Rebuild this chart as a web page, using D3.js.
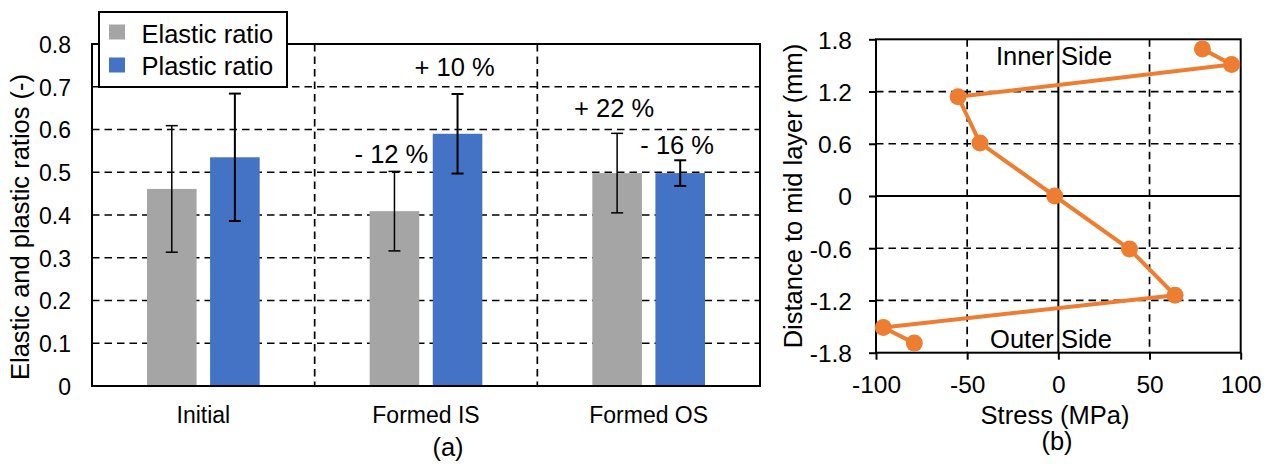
<!DOCTYPE html>
<html>
<head>
<meta charset="utf-8">
<script src="https://cdn.jsdelivr.net/npm/d3@7"></script>
<style>
  html, body { margin: 0; padding: 0; background: #fff; }
  svg { display: block; }
  text { font-family: "Liberation Sans", Arial, sans-serif; fill: #000; }
</style>
</head>
<body>
<svg id="chart" width="1272" height="464"></svg>
<script>
// ---- (a) elastic / plastic ratios ----
const categories = ["Initial", "Formed IS", "Formed OS"];
const seriesNames = ["Elastic ratio", "Plastic ratio"];
const elasticRatio = [0.461, 0.409, 0.498];
const elasticError = [0.148, 0.093, 0.093];
const plasticRatio = [0.535, 0.590, 0.498];
const plasticError = [0.149, 0.093, 0.030];
const ratioTicks = [0, 0.1, 0.2, 0.3, 0.4, 0.5, 0.6, 0.7, 0.8];
const ratioTickLabels = ["0", "0.1", "0.2", "0.3", "0.4", "0.5", "0.6", "0.7", "0.8"];
// relative change labels: [category, series, text]
const changeLabels = [
  ["Formed IS", "Elastic ratio", "- 12 %"],
  ["Formed IS", "Plastic ratio", "+ 10 %"],
  ["Formed OS", "Elastic ratio", "+ 22 %"],
  ["Formed OS", "Plastic ratio", "- 16 %"]
];

// ---- (b) stress profile through thickness ----
const stressMPa = [79, 95, -55, -43, -2, 39, 64, -96, -79];
const distanceMm = [1.69, 1.51, 1.14, 0.61, 0, -0.61, -1.14, -1.51, -1.69];
const stressTicks = [-100, -50, 0, 50, 100];
const stressTickLabels = ["-100", "-50", "0", "50", "100"];
const distanceTicks = [1.8, 1.2, 0.6, 0, -0.6, -1.2, -1.8];
const distanceTickLabels = ["1.8", "1.2", "0.6", "0", "-0.6", "-1.2", "-1.8"];

const svg = d3.select("#chart");
const DASH = "7.5,5";
const colors = { "Elastic ratio": "#A5A5A5", "Plastic ratio": "#4472C4" };

// ================= Panel (a) =================
const A = { left: 92, right: 760, top: 44, bottom: 386 };
const gA = svg.append("g");

const x0 = d3.scaleBand().domain(categories).range([A.left, A.right]).padding(0);
const bw = x0.bandwidth();
const x1 = d3.scaleBand().domain(seriesNames)
  .range([bw * 0.247, bw * 0.753]).paddingInner(0.214).paddingOuter(0);
const yA = d3.scaleLinear().domain([0, 0.8]).range([A.bottom, A.top]);

// grid
gA.append("g").selectAll("line").data(ratioTicks.filter(t => t > 0 && t < 0.8)).join("line")
  .attr("x1", A.left).attr("x2", A.right)
  .attr("y1", d => yA(d)).attr("y2", d => yA(d))
  .attr("stroke", "#000").attr("stroke-width", 1.7).attr("stroke-dasharray", DASH);
gA.append("g").selectAll("line").data(categories.slice(1)).join("line")
  .attr("x1", d => x0(d)).attr("x2", d => x0(d))
  .attr("y1", A.top).attr("y2", A.bottom)
  .attr("stroke", "#000").attr("stroke-width", 1.7).attr("stroke-dasharray", DASH);

const barData = [];
categories.forEach((c, i) => {
  barData.push({ cat: c, s: "Elastic ratio", v: elasticRatio[i], e: elasticError[i] });
  barData.push({ cat: c, s: "Plastic ratio", v: plasticRatio[i], e: plasticError[i] });
});

gA.append("g").selectAll("rect").data(barData).join("rect")
  .attr("x", d => x0(d.cat) + x1(d.s))
  .attr("width", x1.bandwidth())
  .attr("y", d => yA(d.v))
  .attr("height", d => yA(0) - yA(d.v))
  .attr("fill", d => colors[d.s]);

// error bars
const eb = gA.append("g").selectAll("g").data(barData).join("g")
  .attr("stroke", "#000")
  .attr("stroke-width", d => d.s === "Plastic ratio" ? 2 : 1.5);
const cx = d => x0(d.cat) + x1(d.s) + x1.bandwidth() / 2;
eb.append("line").attr("x1", cx).attr("x2", cx)
  .attr("y1", d => yA(d.v + d.e)).attr("y2", d => yA(d.v - d.e));
eb.append("line").attr("x1", d => cx(d) - 6).attr("x2", d => cx(d) + 6)
  .attr("y1", d => yA(d.v + d.e)).attr("y2", d => yA(d.v + d.e));
eb.append("line").attr("x1", d => cx(d) - 6).attr("x2", d => cx(d) + 6)
  .attr("y1", d => yA(d.v - d.e)).attr("y2", d => yA(d.v - d.e));

// change labels above the error bars
const labelLift = { "- 12 %": 8, "+ 10 %": 18, "+ 22 %": 16, "- 16 %": 6 };
gA.append("g").selectAll("text").data(changeLabels).join("text")
  .attr("x", d => x0(d[0]) + x1(d[1]) + x1.bandwidth() / 2 - 3)
  .attr("y", d => {
    const bar = barData.find(b => b.cat === d[0] && b.s === d[1]);
    return yA(bar.v + bar.e) - labelLift[d[2]];
  })
  .attr("text-anchor", "middle").attr("font-size", 25.5)
  .text(d => d[2]);

// frame
gA.append("rect").attr("x", A.left).attr("y", A.top)
  .attr("width", A.right - A.left).attr("height", A.bottom - A.top)
  .attr("fill", "none").attr("stroke", "#000").attr("stroke-width", 2);

// axes
const yAxisA = d3.axisLeft(yA).tickValues(ratioTicks).tickSize(0).tickPadding(21)
  .tickFormat((d, i) => ratioTickLabels[i]);
gA.append("g").attr("transform", `translate(${A.left},0)`).call(yAxisA)
  .call(g => g.select(".domain").remove())
  .selectAll("text").attr("font-size", 23).attr("dy", "0.36em")
  .style("font-family", '"Liberation Sans", Arial, sans-serif').attr("fill", "#000");

const xAxisA = d3.axisBottom(x0).tickSize(0).tickPadding(21);
gA.append("g").attr("transform", `translate(0,${A.bottom})`).call(xAxisA)
  .call(g => g.select(".domain").remove())
  .selectAll("text").attr("font-size", 23)
  .style("font-family", '"Liberation Sans", Arial, sans-serif').attr("fill", "#000");

gA.append("text")
  .attr("transform", "translate(29,227) rotate(-90)")
  .attr("text-anchor", "middle").attr("font-size", 25.5)
  .text("Elastic and plastic ratios (-)");

gA.append("text").attr("x", 448).attr("y", 456)
  .attr("text-anchor", "middle").attr("font-size", 25.5).text("(a)");

// legend
const lg = gA.append("g");
lg.append("rect").attr("x", 99).attr("y", 12).attr("width", 188).attr("height", 75)
  .attr("fill", "#fff").attr("stroke", "#000").attr("stroke-width", 2);
seriesNames.forEach((s, i) => {
  lg.append("rect").attr("x", 109).attr("y", 24.5 + i * 33).attr("width", 16).attr("height", 15)
    .attr("fill", colors[s]);
  lg.append("text").attr("x", 141.5).attr("y", 42.5 + i * 32.5)
    .attr("font-size", 25.5).text(s);
});

// ================= Panel (b) =================
const B = { left: 876, right: 1240.7, top: 39.3, bottom: 352.7 };
const gB = svg.append("g");
const xB = d3.scaleLinear().domain([-100, 100]).range([B.left, B.right]);
const yB = d3.scaleLinear().domain([-1.8, 1.8]).range([B.bottom, B.top]);

// grid: dashed, zero lines solid
gB.append("g").selectAll("line").data(stressTicks.filter(t => t > -100 && t < 100)).join("line")
  .attr("x1", d => xB(d)).attr("x2", d => xB(d))
  .attr("y1", B.top).attr("y2", B.bottom)
  .attr("stroke", "#000").attr("stroke-width", d => d === 0 ? 2 : 1.7)
  .attr("stroke-dasharray", d => d === 0 ? null : DASH);
gB.append("g").selectAll("line").data(distanceTicks.filter(t => t > -1.8 && t < 1.8)).join("line")
  .attr("x1", B.left).attr("x2", B.right)
  .attr("y1", d => yB(d)).attr("y2", d => yB(d))
  .attr("stroke", "#000").attr("stroke-width", d => d === 0 ? 2 : 1.7)
  .attr("stroke-dasharray", d => d === 0 ? null : DASH);

gB.append("rect").attr("x", B.left).attr("y", B.top)
  .attr("width", B.right - B.left).attr("height", B.bottom - B.top)
  .attr("fill", "none").attr("stroke", "#000").attr("stroke-width", 2);

const xAxisB = d3.axisBottom(xB).tickValues(stressTicks).tickSize(7).tickPadding(15.5)
  .tickFormat((d, i) => stressTickLabels[i]);
gB.append("g").attr("transform", `translate(0,${B.bottom})`).call(xAxisB)
  .call(g => g.select(".domain").remove())
  .call(g => g.selectAll("line").attr("stroke-width", 2))
  .selectAll("text").attr("font-size", 24.5)
  .style("font-family", '"Liberation Sans", Arial, sans-serif').attr("fill", "#000");

const yAxisB = d3.axisLeft(yB).tickValues(distanceTicks).tickSize(7).tickPadding(17)
  .tickFormat((d, i) => distanceTickLabels[i]);
gB.append("g").attr("transform", `translate(${B.left},0)`).call(yAxisB)
  .call(g => g.select(".domain").remove())
  .call(g => g.selectAll("line").attr("stroke-width", 2))
  .selectAll("text").attr("font-size", 24.5).attr("dy", "0.36em")
  .style("font-family", '"Liberation Sans", Arial, sans-serif').attr("fill", "#000");

gB.append("text").attr("x", 1054).attr("y", 64.5)
  .attr("text-anchor", "middle").attr("font-size", 25.5).text("Inner Side");
gB.append("text").attr("x", 1051).attr("y", 347.5)
  .attr("text-anchor", "middle").attr("font-size", 25.5).text("Outer Side");

const pts = stressMPa.map((s, i) => [s, distanceMm[i]]);
const line = d3.line().x(d => xB(d[0])).y(d => yB(d[1]));
gB.append("path").datum(pts).attr("d", line)
  .attr("fill", "none").attr("stroke", "#ED7D31").attr("stroke-width", 4)
  .attr("stroke-linejoin", "round");
gB.append("g").selectAll("circle").data(pts).join("circle")
  .attr("cx", d => xB(d[0])).attr("cy", d => yB(d[1])).attr("r", 8.5)
  .attr("fill", "#ED7D31");

gB.append("text").attr("x", 1055).attr("y", 424)
  .attr("text-anchor", "middle").attr("font-size", 25.5).text("Stress (MPa)");
gB.append("text").attr("x", 1057).attr("y", 450)
  .attr("text-anchor", "middle").attr("font-size", 25.5).text("(b)");
gB.append("text")
  .attr("transform", "translate(802,196) rotate(-90)")
  .attr("text-anchor", "middle").attr("font-size", 25.5)
  .text("Distance to mid layer (mm)");
</script>
</body>
</html>
